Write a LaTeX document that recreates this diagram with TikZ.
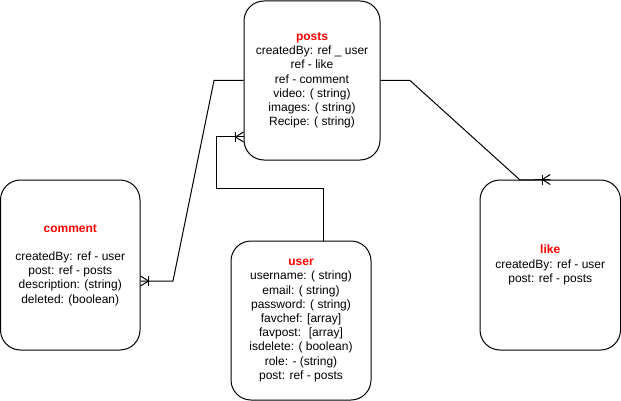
\documentclass[tikz,border=0pt]{standalone}
\usepackage{fontspec}
\setmainfont{Liberation Sans}
\usetikzlibrary{calc}
\begin{document}
\begin{tikzpicture}[x=1pt,y=-1pt,
  entity/.style={draw=black,line width=1pt,fill=white,rounded corners=20pt,
    align=center,inner sep=0pt,font=\fontsize{12}{14.2}\selectfont},
  conn/.style={draw=black,line width=1pt},
  crow/.pic={\draw[line width=1pt] (-8,-5)--(-8,5); \draw[line width=1pt] (0,-5)--(-8,0)--(0,5);}
]
\useasboundingbox (0,0) rectangle (621,401);
\newcommand{\ttl}[1]{\textcolor{red}{\textbf{#1}}}
\node[entity,minimum width=136pt,minimum height=159pt] (posts) at (312,80.5)
 {\ttl{posts}\\createdBy: ref \_ user\\ref - like\\ref - comment\\video: ( string)\\images: ( string)\\Recipe: ( string)};
\node[entity,minimum width=139.5pt,minimum height=170pt] (comment) at (70.25,265)
 {\ttl{comment}\\[14.2pt]createdBy: ref - user\\post: ref - posts\\description: (string)\\deleted: (boolean)};
\node[entity,minimum width=140pt,minimum height=159pt] (user) at (301,320.5)
 {\ttl{user}\\username: ( string)\\email: ( string)\\password: ( string)\\favchef: [array]\\favpost:~ [array]\\isdelete: ( boolean)\\role: - (string)\\post: ref - posts};
\node[entity,minimum width=140.5pt,minimum height=170pt] (like) at (550.25,265)
 {\ttl{like}\\createdBy: ref - user\\post: ref - posts};
% connector comment -> posts
\coordinate (cE) at ($(comment.east)+(0,16)$);
\draw[conn] (cE) -- (173,281) -- (214,80.5) -- (posts.west);
\pic[rotate=180] at (cE) {crow};
% connector user -> posts
\coordinate (uN) at ($(user.north)+(22,0)$);
\coordinate (pW) at ($(posts.west)+(0,56.5)$);
\draw[conn] (uN) -- (323,188) -- (216,188) -- (216,137) -- (pW);
\pic at (pW) {crow};
% connector posts -> like
\draw[conn] (posts.east) -- (410,80.5) -- (520,180) -- (like.north);
\pic at (like.north) {crow};
\end{tikzpicture}
\end{document}
